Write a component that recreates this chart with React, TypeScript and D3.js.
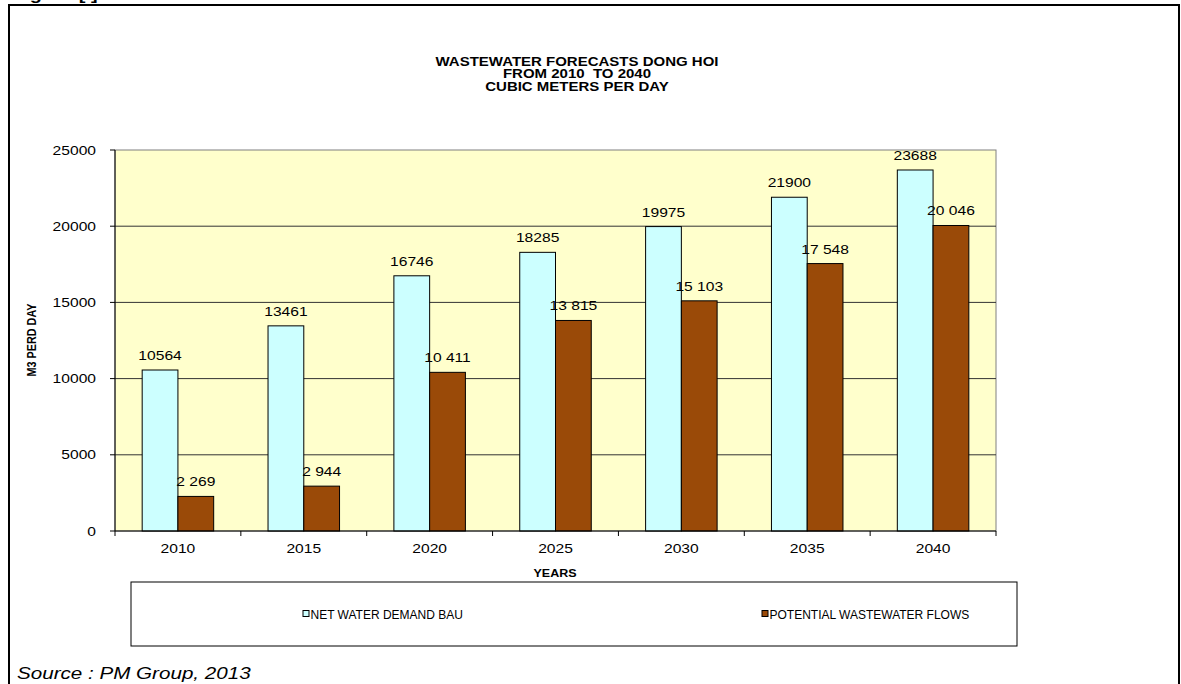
import React from 'react';
import * as d3 from 'd3';

const years = ['2010', '2015', '2020', '2025', '2030', '2035', '2040'];
const netDemand = [10564, 13461, 16746, 18285, 19975, 21900, 23688];
const wastewater = [2269, 2944, 10411, 13815, 15103, 17548, 20046];
const seriesNames = ['NET WATER DEMAND BAU', 'POTENTIAL WASTEWATER FLOWS'];
const yTicks = [0, 5000, 10000, 15000, 20000, 25000];
const titleLines = ['WASTEWATER FORECASTS DONG HOI', 'FROM 2010  TO 2040', 'CUBIC METERS PER DAY'];

const FONT = '"Liberation Sans", Arial, Helvetica, sans-serif';
const SX = 1.25;
const COLORS = ['#CCFFFF', '#9A4A08'];

type TProps = {
  x: number; y: number; size: number; anchor?: 'start' | 'middle' | 'end';
  bold?: boolean; italic?: boolean; rotate?: number; sx?: number; children: React.ReactNode;
};
const T = ({ x, y, size, anchor = 'start', bold, italic, rotate, sx = SX, children }: TProps) => (
  <text
    transform={`translate(${x},${y}) scale(${sx},1)${rotate ? ` rotate(${rotate})` : ''}`}
    fontFamily={FONT}
    fontSize={size}
    fontWeight={bold ? 'bold' : 'normal'}
    fontStyle={italic ? 'italic' : 'normal'}
    textAnchor={anchor}
    fill="#000"
    style={{ whiteSpace: 'pre' }}
  >
    {children}
  </text>
);

export default function App() {
  const W = 1181, H = 684;
  const plot = { left: 115, right: 996, top: 150, bottom: 531 };
  const x0 = d3.scaleBand<string>().domain(years).range([plot.left, plot.right]).padding(0);
  const x1 = d3.scaleBand<number>().domain([0, 1]).range([0, x0.bandwidth()]).paddingInner(0).paddingOuter(0.76);
  const y = d3.scaleLinear().domain([0, 25000]).range([plot.bottom, plot.top]);
  const fmtSpace = (v: number) => d3.format(',')(v).replace(/,/g, ' ');
  const series = [netDemand, wastewater];
  const labelFmt = [(v: number) => String(v), fmtSpace];

  return (
    <svg width={W} height={H} style={{ position: 'absolute', left: 0, top: 0, display: 'block', background: '#fff' }}>
      <rect x={0} y={0} width={W} height={H} fill="#fff" />
      {/* cut-off figure caption */}
      <T x={12} y={-0.5} size={16} bold>Figure [ ]</T>
      {/* outer frame */}
      <rect x={9} y={5} width={1170} height={H + 20} fill="none" stroke="#000" strokeWidth={2} />

      {/* title */}
      {titleLines.map((t, i) => (
        <T key={i} x={577} y={65.5 + i * 12.5} size={12} bold anchor="middle">{t}</T>
      ))}

      {/* plot area */}
      <rect x={plot.left} y={plot.top} width={plot.right - plot.left} height={plot.bottom - plot.top}
        fill="#FFFFCC" stroke="#808080" strokeWidth={1} />
      {yTicks.filter(t => t > 0 && t < 25000).map(t => (
        <line key={t} x1={plot.left} x2={plot.right} y1={y(t)} y2={y(t)} stroke="#333" strokeWidth={1} />
      ))}

      {/* bars */}
      {series.map((vals, s) => vals.map((v, i) => {
        const bx = (x0(years[i]) as number) + (x1(s) as number);
        return (
          <rect key={`${s}-${i}`} x={bx} y={y(v)} width={x1.bandwidth()} height={y(0) - y(v)}
            fill={COLORS[s]} stroke="#000" strokeWidth={1} />
        );
      }))}
      {series.map((vals, s) => vals.map((v, i) => {
        const cx = (x0(years[i]) as number) + (x1(s) as number) + x1.bandwidth() / 2;
        return <T key={`l${s}-${i}`} x={cx} y={y(v) - 10} size={12.5} anchor="middle">{labelFmt[s](v)}</T>;
      }))}

      {/* axes */}
      <line x1={plot.left} x2={plot.left} y1={plot.top} y2={plot.bottom} stroke="#000" />
      <line x1={plot.left} x2={plot.right} y1={plot.bottom} y2={plot.bottom} stroke="#000" />
      {yTicks.map(t => (
        <g key={t}>
          <line x1={plot.left - 5} x2={plot.left} y1={y(t)} y2={y(t)} stroke="#000" />
          <T x={96} y={y(t) + 4.5} size={12.5} anchor="end">{String(t)}</T>
        </g>
      ))}
      {years.map((yr) => (
        <line key={yr} x1={(x0(yr) as number)} x2={(x0(yr) as number)} y1={plot.bottom} y2={plot.bottom + 5} stroke="#000" />
      ))}
      <line x1={plot.right} x2={plot.right} y1={plot.bottom} y2={plot.bottom + 5} stroke="#000" />
      {years.map(yr => (
        <T key={`t${yr}`} x={(x0(yr) as number) + x0.bandwidth() / 2} y={553} size={12.5} anchor="middle">{yr}</T>
      ))}

      <T x={555} y={577} size={10} bold anchor="middle">YEARS</T>
      <T x={36} y={340} size={10.8} bold anchor="middle" rotate={-90}>M3 PERD DAY</T>

      {/* legend */}
      <rect x={131} y={582} width={886} height={64} fill="#fff" stroke="#000" strokeWidth={1} />
      {seriesNames.map((n, s) => {
        const lx = s === 0 ? 303 : 762;
        return (
          <g key={n}>
            <rect x={lx} y={610.5} width={6} height={6} fill={COLORS[s]} stroke="#000" strokeWidth={1} />
            <T x={lx + 7.5} y={618.5} size={12} sx={1.0}>{n}</T>
          </g>
        );
      })}

      <T x={17} y={679} size={16.5} italic sx={1.25}>Source : PM Group, 2013</T>
    </svg>
  );
}
